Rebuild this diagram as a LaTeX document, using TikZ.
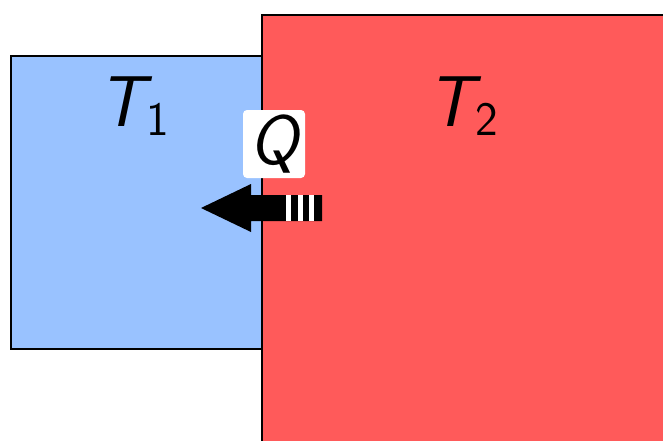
\documentclass[tikz,border=0pt]{standalone}
\usepackage{fontspec}
\definecolor{cold}{RGB}{153,194,255}
\definecolor{hot}{RGB}{255,90,90}
\newcommand{\subone}[1]{\raisebox{-9pt}{\fontsize{48}{56}\selectfont\upshape #1}}
\begin{document}
\begin{tikzpicture}[x=1pt,y=-1pt,
  body/.style={draw=black,line width=1.8pt,anchor=north west,inner sep=0pt},
  lbl/.style={font=\fontsize{72}{82}\selectfont\sffamily\itshape,inner sep=0pt},
  qbox/.style={fill=white,rounded corners=4pt,minimum width=62pt,minimum height=68pt,inner sep=0pt,font=\fontsize{70}{80}\selectfont\sffamily\itshape}]
\useasboundingbox (0,0) rectangle (663,440);
\clip (0,0) rectangle (663,440);
\node[body,fill=cold,minimum width=251pt,minimum height=293pt] (cold) at (10,55) {};
\node[body,fill=hot,minimum width=460pt,minimum height=460pt] (hot) at (261,14) {};
\node[lbl] (t1) at (134,106) {T\kern2pt\subone{1}};
\node[lbl] (t2) at (463,106) {T\kern2pt\subone{2}};
\node[qbox] (q) at (274,144) {Q};
% heat flow arrow
\fill[black] (322,195) -- (251,195) -- (251,184) -- (201,208) -- (251,232) -- (251,221) -- (322,221) -- cycle;
\foreach \x in {286,297.5,309}
  \fill[white] (\x,195) rectangle ++(5,26);
\end{tikzpicture}
\end{document}
